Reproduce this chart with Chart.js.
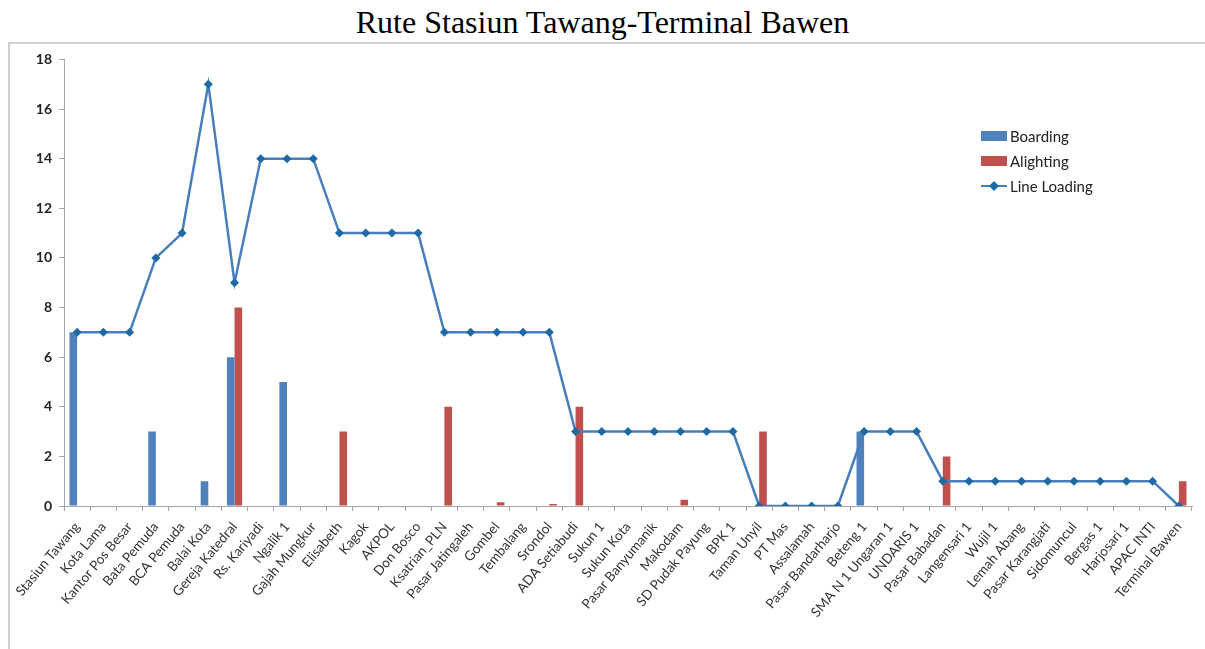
<!DOCTYPE html>
<html>
<head>
<meta charset="utf-8">
<script src="https://cdn.jsdelivr.net/npm/chart.js@4.4.0/dist/chart.umd.min.js"></script>
<style>
  body { margin: 0; background: #fff; width: 1205px; height: 649px; overflow: hidden; }
  #title { position: absolute; left: 0; top: 4px; width: 1205px; text-align: center;
    font-family: "Liberation Serif", "Times New Roman", serif; font-size: 32px; color: #000; }
  #frame { position: absolute; left: 8px; top: 42px; width: 1197px; height: 607px;
    border-left: 2px solid #cfcfcf; border-top: 2px solid #cfcfcf; }
  #frame canvas { display: block; }
</style>
</head>
<body>
<div id="title">Rute Stasiun Tawang-Terminal Bawen</div>
<div id="frame"><canvas id="chart" width="1195" height="605"></canvas></div>
<script>
const stops = [
  'Stasiun Tawang', 'Kota Lama', 'Kantor Pos Besar', 'Bata Pemuda', 'BCA Pemuda', 'Balai Kota',
  'Gereja Katedral', 'Rs. Kariyadi', 'Ngalik 1', 'Gajah Mungkur', 'Elisabeth', 'Kagok', 'AKPOL',
  'Don Bosco', 'Ksatrian_PLN', 'Pasar Jatingaleh', 'Gombel', 'Tembalang', 'Srondol',
  'ADA Setiabudi', 'Sukun 1', 'Sukun Kota', 'Pasar Banyumanik', 'Makodam', 'SD Pudak Payung',
  'BPK 1', 'Taman Unyil', 'PT Mas', 'Assalamah', 'Pasar Bandarharjo', 'Beteng 1',
  'SMA N 1 Ungaran 1', 'UNDARIS 1', 'Pasar Babadan', 'Langensari 1', 'Wujil 1', 'Lemah Abang',
  'Pasar Karangjati', 'Sidomuncul', 'Bergas 1', 'Harjosari 1', 'APAC INTI', 'Terminal Bawen'
];

const boarding = [7, 0, 0, 3, 0, 1, 6, 0, 5, 0, 0, 0, 0, 0, 0, 0, 0, 0, 0, 0, 0, 0,
  0, 0, 0, 0, 0, 0, 0, 0, 3, 0, 0, 0, 0, 0, 0, 0, 0, 0, 0, 0, 0];

const alighting = [0, 0, 0, 0, 0, 0, 8, 0, 0, 0, 3, 0, 0, 0, 4, 0, 0.15, 0, 0.08, 4, 0, 0,
  0, 0.25, 0, 0, 3, 0, 0, 0, 0, 0, 0, 2, 0, 0, 0, 0, 0, 0, 0, 0, 1];

const lineLoading = [7, 7, 7, 10, 11, 17, 9, 14, 14, 14, 11, 11, 11, 11, 7, 7, 7, 7, 7, 3, 3, 3,
  3, 3, 3, 3, 0, 0, 0, 0, 3, 3, 3, 1, 1, 1, 1, 1, 1, 1, 1, 1, 0];

const yTicks = [0, 2, 4, 6, 8, 10, 12, 14, 16, 18];

const txtFont = 'Lato, "Open Sans", sans-serif';

// legend drawn inside the plot, like the original
const insideLegend = {
  id: 'insideLegend',
  afterDraw(chart) {
    const ctx = chart.ctx;
    const x = 971, y0 = 92, gap = 25;
    ctx.save();
    ctx.font = '15px ' + txtFont;
    ctx.textBaseline = 'middle';
    chart.data.datasets.forEach((ds, i) => {
      const y = y0 + i * gap;
      if (ds.type === 'line') {
        ctx.strokeStyle = ds.borderColor;
        ctx.lineWidth = 2;
        ctx.beginPath();
        ctx.moveTo(x, y);
        ctx.lineTo(x + 26, y);
        ctx.stroke();
        ctx.fillStyle = ds.pointBackgroundColor;
        ctx.beginPath();
        ctx.moveTo(x + 13, y - 5);
        ctx.lineTo(x + 18, y);
        ctx.lineTo(x + 13, y + 5);
        ctx.lineTo(x + 8, y);
        ctx.closePath();
        ctx.fill();
      } else {
        ctx.fillStyle = ds.backgroundColor;
        ctx.fillRect(x, y - 5, 26, 10);
      }
      ctx.fillStyle = '#222';
      ctx.fillText(ds.label, x + 29, y + 1);
    });
    ctx.restore();
  }
};

new Chart(document.getElementById('chart'), {
  type: 'bar',
  data: {
    labels: stops,
    datasets: [
      { label: 'Boarding', data: boarding, backgroundColor: '#4f81bd', order: 2,
        categoryPercentage: 0.58, barPercentage: 1 },
      { label: 'Alighting', data: alighting, backgroundColor: '#c0504d', order: 2,
        categoryPercentage: 0.58, barPercentage: 1 },
      { type: 'line', label: 'Line Loading', data: lineLoading, order: 1,
        borderColor: '#4a7ebb', borderWidth: 2.5, tension: 0,
        pointStyle: 'rectRot', pointRadius: 4.5, pointBackgroundColor: '#1f6aa5',
        pointBorderColor: '#1f6aa5', pointBorderWidth: 0 }
    ]
  },
  options: {
    responsive: false,
    animation: false,
    layout: { padding: { top: 1, right: 13, left: 0, bottom: 0 } },
    plugins: { legend: { display: false }, tooltip: { enabled: false } },
    scales: {
      x: {
        grid: { drawOnChartArea: false, drawTicks: true, tickLength: 5, color: '#a6a6a6' },
        border: { color: '#a6a6a6' },
        ticks: { minRotation: 50, maxRotation: 50, autoSkip: false, color: '#333',
          font: { family: txtFont, size: 13.5 }, padding: 8 },
        afterFit(scale) { scale.height = 143; }
      },
      y: {
        min: 0, max: 18,
        grid: { drawOnChartArea: false, drawTicks: true, tickLength: 5, color: '#a6a6a6' },
        border: { color: '#a6a6a6' },
        afterBuildTicks(scale) { scale.ticks = yTicks.map(v => ({ value: v })); },
        ticks: { color: '#222', font: { family: txtFont, size: 14, weight: 'bold' }, padding: 7 },
        afterFit(scale) { scale.width = 52; }
      }
    }
  },
  plugins: [insideLegend]
});
</script>
</body>
</html>
